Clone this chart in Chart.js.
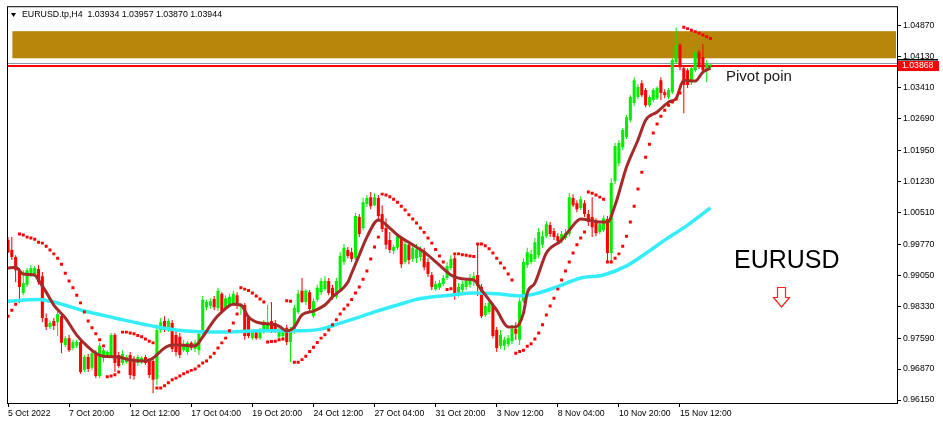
<!DOCTYPE html>
<html>
<head>
<meta charset="utf-8">
<title>EURUSD.tp,H4</title>
<script src="https://cdn.jsdelivr.net/npm/chart.js@4.4.1/dist/chart.umd.min.js"></script>
<style>
  html, body { margin: 0; padding: 0; background: #fff; }
</style>
</head>
<body>
<canvas id="chart" width="943" height="427"></canvas>
<script>
// H4 candles, one per bar index (0 = 5 Oct 2022)
const opens = [
  0.9987,0.9964,0.9948,0.9917,0.9864,0.9883,0.9906,0.9908,0.9920,0.9903,
  0.9806,0.9785,0.9799,0.9796,0.9810,0.9743,0.9759,0.9736,0.9741,0.9750,
  0.9685,0.9715,0.9690,0.9722,0.9671,0.9713,0.9717,0.9715,0.9766,0.9720,
  0.9701,0.9703,0.9720,0.9711,0.9701,0.9703,0.9715,0.9706,0.9706,0.9664,
  0.9778,0.9799,0.9778,0.9794,0.9766,0.9762,0.9731,0.9727,0.9748,0.9734,
  0.9731,0.9771,0.9831,0.9834,0.9850,0.9829,0.9862,0.9829,0.9836,0.9841,
  0.9859,0.9831,0.9836,0.9806,0.9759,0.9773,0.9759,0.9773,0.9778,0.9799,
  0.9794,0.9762,0.9764,0.9783,0.9750,0.9776,0.9820,0.9869,0.9843,0.9866,
  0.9810,0.9848,0.9866,0.9873,0.9892,0.9876,0.9855,0.9873,0.9936,0.9964,
  0.9959,0.9945,1.0041,1.0015,1.0071,1.0087,1.0068,1.0085,1.0048,1.0015,
  0.9987,0.9962,0.9969,0.9992,0.9936,0.9976,0.9943,0.9945,0.9948,0.9962,
  0.9936,0.9906,0.9873,0.9876,0.9885,0.9899,0.9922,0.9945,0.9859,0.9871,
  0.9878,0.9883,0.9892,0.9906,0.9878,0.9813,0.9820,0.9836,0.9778,0.9741,
  0.9741,0.9745,0.9752,0.9780,0.9755,0.9845,0.9929,0.9936,0.9943,0.9952,
  0.9976,0.9996,1.0022,1.0008,0.9996,0.9987,0.9992,1.0001,1.0085,1.0073,
  1.0062,1.0073,1.0048,1.0041,1.0031,1.0006,1.0010,1.0036,0.9957,1.0124,
  1.0166,1.0203,1.0227,1.0266,1.0306,1.0320,1.0352,1.0336,1.0301,1.0313,
  1.0317,1.0359,1.0331,1.0320,1.0331,1.0401,1.0441,1.0387,1.0382,1.0354,
  1.0382,1.0424,1.0413,1.0382,1.03934
];
const highs = [
  0.9994,0.9994,0.9952,0.9922,0.9917,0.9922,0.9929,0.9927,0.9929,0.9913,
  0.9817,0.9799,0.9806,0.9824,0.9815,0.9764,0.9766,0.9755,0.9755,0.9759,
  0.9720,0.9722,0.9731,0.9731,0.9748,0.9736,0.9731,0.9771,0.9771,0.9727,
  0.9731,0.9720,0.9727,0.9717,0.9720,0.9717,0.9720,0.9713,0.9713,0.9790,
  0.9806,0.9810,0.9804,0.9801,0.9778,0.9771,0.9755,0.9752,0.9752,0.9755,
  0.9778,0.9857,0.9848,0.9852,0.9857,0.9876,0.9866,0.9859,0.9862,0.9869,
  0.9866,0.9841,0.9841,0.9813,0.9778,0.9778,0.9783,0.9801,0.9836,0.9843,
  0.9801,0.9783,0.9783,0.9790,0.9785,0.9836,0.9871,0.9899,0.9873,0.9871,
  0.9852,0.9883,0.9899,0.9903,0.9899,0.9883,0.9899,0.9959,0.9978,0.9971,
  0.9969,1.0050,1.0048,1.0085,1.0092,1.0099,1.0096,1.0092,1.0068,1.0038,
  1.0006,0.9976,1.0003,0.9996,0.9987,0.9982,0.9976,0.9978,0.9973,0.9969,
  0.9945,0.9913,0.9892,0.9894,0.9906,0.9936,0.9952,0.9952,0.9887,0.9892,
  0.9899,0.9908,0.9913,0.9978,0.9885,0.9841,0.9848,0.9841,0.9785,0.9778,
  0.9762,0.9766,0.9790,0.9796,0.9852,0.9945,0.9969,0.9964,0.9992,1.0015,
  1.0008,1.0031,1.0029,1.0015,1.0003,1.0008,1.0013,1.0096,1.0094,1.0080,
  1.0089,1.0080,1.0057,1.0087,1.0038,1.0031,1.0045,1.0043,1.0131,1.0213,
  1.0220,1.0248,1.0278,1.0324,1.0366,1.0350,1.0359,1.0341,1.0324,1.0341,
  1.0345,1.0366,1.0338,1.0341,1.0410,1.0482,1.0445,1.0394,1.0387,1.0392,
  1.0436,1.0429,1.0443,1.0406,1.03957
];
const lows = [
  0.9957,0.9941,0.9889,0.9841,0.9859,0.9878,0.9901,0.9901,0.9883,0.9796,
  0.9778,0.9780,0.9778,0.9764,0.9724,0.9738,0.9727,0.9731,0.9736,0.9676,
  0.9680,0.9680,0.9685,0.9666,0.9666,0.9703,0.9713,0.9713,0.9680,0.9690,
  0.9697,0.9699,0.9664,0.9662,0.9694,0.9699,0.9697,0.9666,0.9631,0.9650,
  0.9771,0.9773,0.9773,0.9727,0.9717,0.9713,0.9727,0.9720,0.9731,0.9727,
  0.9720,0.9764,0.9824,0.9827,0.9824,0.9822,0.9817,0.9827,0.9831,0.9836,
  0.9827,0.9813,0.9755,0.9759,0.9755,0.9755,0.9755,0.9769,0.9773,0.9771,
  0.9771,0.9757,0.9759,0.9743,0.9703,0.9769,0.9815,0.9841,0.9836,0.9822,
  0.9806,0.9843,0.9859,0.9869,0.9859,0.9848,0.9850,0.9869,0.9929,0.9945,
  0.9936,0.9941,0.9994,1.0010,1.0064,1.0059,1.0066,1.0036,1.0006,0.9966,
  0.9957,0.9955,0.9964,0.9922,0.9931,0.9931,0.9936,0.9934,0.9938,0.9917,
  0.9901,0.9871,0.9869,0.9871,0.9880,0.9894,0.9917,0.9848,0.9855,0.9866,
  0.9871,0.9876,0.9880,0.9857,0.9806,0.9808,0.9815,0.9759,0.9727,0.9734,
  0.9731,0.9738,0.9745,0.9755,0.9743,0.9841,0.9922,0.9931,0.9936,0.9945,
  0.9969,0.9992,0.9994,0.9987,0.9978,0.9980,0.9987,0.9996,1.0064,1.0052,
  1.0057,1.0041,1.0020,0.9994,0.9996,1.0001,1.0006,0.9936,0.9934,1.0117,
  1.0159,1.0196,1.0222,1.0261,1.0299,1.0315,1.0320,1.0296,1.0296,1.0308,
  1.0313,1.0313,1.0317,1.0315,1.0327,1.0396,1.0382,1.0282,1.0341,1.0348,
  1.0378,1.0385,1.0375,1.0354,1.03870
];
const closes = [
  0.9959,0.9948,0.9917,0.9878,0.9887,0.9917,0.9922,0.9922,0.9889,0.9806,
  0.9785,0.9794,0.9787,0.9815,0.9748,0.9759,0.9731,0.9750,0.9750,0.9680,
  0.9715,0.9687,0.9724,0.9671,0.9741,0.9731,0.9727,0.9766,0.9701,0.9694,
  0.9722,0.9715,0.9673,0.9671,0.9715,0.9713,0.9701,0.9673,0.9662,0.9778,
  0.9796,0.9778,0.9799,0.9734,0.9727,0.9720,0.9745,0.9748,0.9736,0.9748,
  0.9769,0.9848,0.9843,0.9845,0.9831,0.9869,0.9822,0.9852,0.9855,0.9862,
  0.9834,0.9836,0.9764,0.9764,0.9773,0.9759,0.9778,0.9792,0.9790,0.9778,
  0.9778,0.9778,0.9778,0.9750,0.9776,0.9829,0.9862,0.9843,0.9869,0.9827,
  0.9845,0.9876,0.9892,0.9892,0.9864,0.9855,0.9892,0.9950,0.9969,0.9950,
  0.9943,1.0043,1.0001,1.0075,1.0085,1.0066,1.0087,1.0043,1.0013,0.9976,
  0.9964,0.9971,0.9996,0.9931,0.9978,0.9941,0.9969,0.9966,0.9964,0.9924,
  0.9908,0.9878,0.9885,0.9887,0.9899,0.9927,0.9943,0.9857,0.9878,0.9885,
  0.9892,0.9899,0.9903,0.9880,0.9810,0.9834,0.9841,0.9764,0.9736,0.9766,
  0.9755,0.9759,0.9780,0.9769,0.9845,0.9936,0.9959,0.9955,0.9982,1.0006,
  0.9996,1.0024,1.0001,0.9994,0.9985,1.0001,1.0003,1.0087,1.0068,1.0059,
  1.0082,1.0048,1.0029,1.0017,1.0003,1.0024,1.0038,0.9957,1.0120,1.0206,
  1.0213,1.0243,1.0273,1.0320,1.0359,1.0343,1.0324,1.0301,1.0320,1.0336,
  1.0341,1.0329,1.0324,1.0336,1.0406,1.0441,1.0389,1.0348,1.0348,1.0387,
  1.0424,1.0389,1.0382,1.0399,1.03944
];

// Parabolic SAR, one dot per bar
const sar = [
  0.9810,0.9824,0.9838,1.0001,0.9999,0.9994,0.9992,0.9989,0.9982,0.9980,
  0.9973,0.9964,0.9955,0.9945,0.9931,0.9910,0.9892,0.9876,0.9859,0.9841,
  0.9820,0.9799,0.9783,0.9769,0.9755,0.9741,0.9669,0.9671,0.9674,0.9680,
  0.9773,0.9773,0.9771,0.9769,0.9765,0.9762,0.9757,0.9752,0.9748,0.9643,
  0.9643,0.9648,0.9655,0.9662,0.9666,0.9671,0.9676,0.9680,0.9684,0.9687,
  0.9694,0.9701,0.9706,0.9715,0.9724,0.9736,0.9748,0.9759,0.9776,0.9794,
  0.9815,0.9876,0.9873,0.9870,0.9864,0.9857,0.9850,0.9843,0.9750,0.9751,
  0.9752,0.9755,0.9757,0.9846,0.9845,0.9703,0.9703,0.9709,0.9717,0.9728,
  0.9738,0.9749,0.9759,0.9767,0.9778,0.9790,0.9802,0.9815,0.9827,0.9836,
  0.9849,0.9864,0.9878,0.9896,0.9915,0.9943,0.9971,0.9994,1.0094,1.0092,
  1.0088,1.0082,1.0075,1.0066,1.0057,1.0046,1.0036,1.0027,1.0015,1.0005,
  0.9992,0.9980,0.9965,0.9950,0.9936,0.9872,0.9874,0.9955,0.9955,0.9953,
  0.9952,0.9950,0.9949,0.9978,0.9978,0.9974,0.9967,0.9957,0.9945,0.9934,
  0.9922,0.9908,0.9894,0.9724,0.9728,0.9731,0.9740,0.9746,0.9757,0.9771,
  0.9790,0.9813,0.9834,0.9852,0.9873,0.9894,0.9915,0.9936,0.9957,0.9976,
  0.9992,1.0006,1.0099,1.0096,1.0092,1.0087,1.0082,0.9936,0.9936,0.9945,
  0.9955,0.9973,0.9996,1.0029,1.0066,1.0106,1.0145,1.0180,1.0210,1.0236,
  1.0257,1.0275,1.0289,1.0301,1.0308,1.0315,1.0329,1.0482,1.0479,1.0475,
  1.0472,1.0468,1.0464,1.0460,1.0456
];

// fast moving average (brown), read at these bars
const maFastBars = [0,2,4,7,8,10,12,15,18,21,23,25,29,32,36,38,41,43,45,49,
  51,54,56,59,61,63,66,69,71,73,75,77,80,83,85,89,90,92,94,97,
  100,102,106,109,113,116,120,122,124,128,131,133,135,136,138,141,145,147,150,152,
  155,157,159,162,165,167,170,173,175,177,180,182,184];
const maFast = [0.9922,0.9924,0.9908,0.9906,0.9894,0.9866,0.9836,0.9806,0.9766,0.9738,
  0.9724,0.9717,0.9715,0.9708,0.9706,0.9713,0.9736,0.9743,0.9743,0.9741,
  0.9762,0.9801,0.9820,0.9838,0.9836,0.9808,0.9794,0.9792,0.9787,0.9776,
  0.9785,0.9813,0.9822,0.9836,0.9855,0.9889,0.9910,0.9952,0.9994,1.0034,
  1.0015,0.9999,0.9976,0.9959,0.9929,0.9906,0.9896,0.9894,0.9871,0.9824,
  0.9785,0.9785,0.9817,0.9864,0.9887,0.9957,0.9987,1.0010,1.0036,1.0034,
  1.0029,1.0029,1.0068,1.0157,1.0220,1.0266,1.0285,1.0308,1.0317,1.0359,
  1.0357,1.0378,1.0387];

// slow moving average (cyan)
const maSlowBars = [0,8,12,20,28,38,46,56,66,76,82,87,92,96,102,108,116,122,128,134,
  138,144,150,156,162,168,172,178,184];
const maSlow = [0.9845,0.9849,0.9843,0.9822,0.9806,0.9787,0.9776,0.9773,0.9776,0.9776,
  0.9780,0.9794,0.9808,0.9820,0.9836,0.9851,0.9859,0.9864,0.9862,0.9857,
  0.9862,0.9879,0.9899,0.9906,0.9927,0.9962,0.9987,1.0022,1.0062];

const xTickBars = [0,16,32,48,64,80,96,112,128,144,160,176];
const xLabels = ['5 Oct 2022','7 Oct 20:00','12 Oct 12:00','17 Oct 04:00','19 Oct 20:00',
  '24 Oct 12:00','27 Oct 04:00','31 Oct 20:00','3 Nov 12:00','8 Nov 04:00','10 Nov 20:00','15 Nov 12:00'];
const yTicks = [0.96150,0.96870,0.97590,0.98330,0.99050,0.99770,1.00510,
  1.01230,1.01950,1.02690,1.03410,1.04130,1.04870];

// zone and price lines
const zoneTop = 1.0473, zoneBottom = 1.0410, zoneStartBar = 1.15;
const askLine = 1.0399, bidLine = 1.0392;
const priceTag = '1.03868';
const title = 'EURUSD.tp,H4  1.03934 1.03957 1.03870 1.03944';

const BULL = '#00ee00', BEAR = '#ff0000';
const candleColors = closes.map((c, i) => c >= opens[i] ? BULL : BEAR);

Chart.defaults.font.family = '"Liberation Sans", Arial, sans-serif';

const decor = {
  id: 'decor',
  beforeDatasetsDraw(chart) {
    const { ctx, chartArea: a, scales: { x, y } } = chart;
    ctx.save();
    const zx = x.getPixelForValue(zoneStartBar);
    const zt = y.getPixelForValue(zoneTop);
    const zb = y.getPixelForValue(zoneBottom);
    ctx.fillStyle = '#b8860b';
    ctx.fillRect(zx, zt, a.right - 1 - zx, zb - zt);

    ctx.fillStyle = '#8d96a5';
    ctx.fillRect(a.left, Math.round(y.getPixelForValue(askLine)), a.right - a.left, 1);
    ctx.fillStyle = '#ff0000';
    ctx.fillRect(a.left, Math.round(y.getPixelForValue(bidLine)) - 1, a.right - a.left, 2);
    ctx.restore();
  },
  afterDraw(chart) {
    const { ctx, chartArea: a, scales: { y } } = chart;
    ctx.save();
    // frame
    ctx.strokeStyle = '#000';
    ctx.lineWidth = 1;
    ctx.strokeRect(a.left + 0.5, a.top - 0.5, a.right - a.left, a.bottom - a.top + 1);

    // title
    ctx.fillStyle = '#000';
    ctx.beginPath();
    ctx.moveTo(11, 13); ctx.lineTo(16, 13); ctx.lineTo(13.5, 17); ctx.closePath();
    ctx.fill();
    ctx.font = '8.8px "Liberation Sans", Arial, sans-serif';
    ctx.textBaseline = 'middle';
    ctx.fillText(title, 22, 15);

    // price tag on the axis
    const py = y.getPixelForValue(bidLine);
    ctx.fillStyle = '#000';
    ctx.fillRect(a.right, py - 7, 41, 1.5);
    ctx.fillStyle = '#ff0000';
    ctx.fillRect(a.right + 1, py - 5, 41, 10);
    ctx.fillStyle = '#fff';
    ctx.font = '8.7px "Liberation Sans", Arial, sans-serif';
    ctx.fillText(priceTag, a.right + 5, py);

    // labels
    ctx.fillStyle = '#1a1a1a';
    ctx.font = '15px "Liberation Sans", Arial, sans-serif';
    ctx.fillText('Pivot poin', 726, 77);
    ctx.fillStyle = '#000';
    ctx.font = '25px "Liberation Sans", Arial, sans-serif';
    ctx.textBaseline = 'alphabetic';
    ctx.fillText('EURUSD', 734, 268);

    // hollow down arrow
    ctx.beginPath();
    ctx.moveTo(777.5, 287.5); ctx.lineTo(785.5, 287.5); ctx.lineTo(785.5, 297.5);
    ctx.lineTo(789.5, 297.5); ctx.lineTo(781.5, 307); ctx.lineTo(773.5, 297.5);
    ctx.lineTo(777.5, 297.5); ctx.closePath();
    ctx.fillStyle = '#fff';
    ctx.fill();
    ctx.strokeStyle = '#ff2020';
    ctx.lineWidth = 1.2;
    ctx.stroke();
    ctx.restore();
  }
};

const tickFont = { size: 8.7, family: '"Liberation Sans", Arial, sans-serif' };

new Chart(document.getElementById('chart'), {
  type: 'bar',
  data: {
    datasets: [
      {
        type: 'line',
        label: 'Parabolic SAR',
        data: sar.map((v, i) => ({ x: i, y: v })),
        showLine: false,
        pointStyle: 'rect',
        pointRadius: 2.1,
        pointBackgroundColor: '#ff0000',
        pointBorderWidth: 0,
        order: 0
      },
      {
        type: 'line',
        label: 'MA fast',
        data: maFastBars.map((b, i) => ({ x: b, y: maFast[i] })),
        borderColor: '#a52a2a',
        borderWidth: 3,
        pointRadius: 0,
        cubicInterpolationMode: 'monotone',
        order: 1
      },
      {
        type: 'line',
        label: 'MA slow',
        data: maSlowBars.map((b, i) => ({ x: b, y: maSlow[i] })),
        borderColor: '#33eefa',
        borderWidth: 3.5,
        pointRadius: 0,
        cubicInterpolationMode: 'monotone',
        order: 2
      },
      {
        label: 'body',
        data: opens.map((o, i) => ({ x: i, y: [o, closes[i]] })),
        backgroundColor: candleColors,
        grouped: false,
        categoryPercentage: 1,
        barPercentage: 0.8,
        minBarLength: 1,
        inflateAmount: 0,
        order: 3
      },
      {
        label: 'wick',
        data: lows.map((l, i) => ({ x: i, y: [l, highs[i]] })),
        backgroundColor: candleColors,
        grouped: false,
        categoryPercentage: 1,
        barPercentage: 0.27,
        inflateAmount: 0,
        order: 4
      }
    ]
  },
  options: {
    responsive: false,
    animation: false,
    events: [],
    layout: { padding: { left: 7, top: 7, right: 0, bottom: 0 } },
    plugins: { legend: { display: false }, tooltip: { enabled: false } },
    scales: {
      x: {
        type: 'linear',
        min: -0.262,
        max: 232.84,
        offset: false,
        afterBuildTicks: s => { s.ticks = xTickBars.map(v => ({ value: v })); },
        afterFit: s => { s.height = 24; },
        grid: { offset: false, drawOnChartArea: false, drawTicks: true, tickLength: 4, color: '#000' },
        border: { display: false },
        ticks: {
          autoSkip: false, maxRotation: 0, align: 'start', padding: 1,
          color: '#000', font: tickFont,
          callback: (v, i) => xLabels[i]
        }
      },
      y: {
        type: 'linear',
        position: 'right',
        min: 0.96081,
        max: 1.05288,
        afterBuildTicks: s => { s.ticks = yTicks.map(v => ({ value: v })); },
        afterFit: s => { s.width = 46; },
        grid: { drawOnChartArea: false, drawTicks: true, tickLength: 4, color: '#000' },
        border: { display: false },
        ticks: {
          autoSkip: false, padding: 2, color: '#000', font: tickFont,
          callback: v => v.toFixed(5)
        }
      }
    }
  },
  plugins: [decor]
});
</script>
</body>
</html>
